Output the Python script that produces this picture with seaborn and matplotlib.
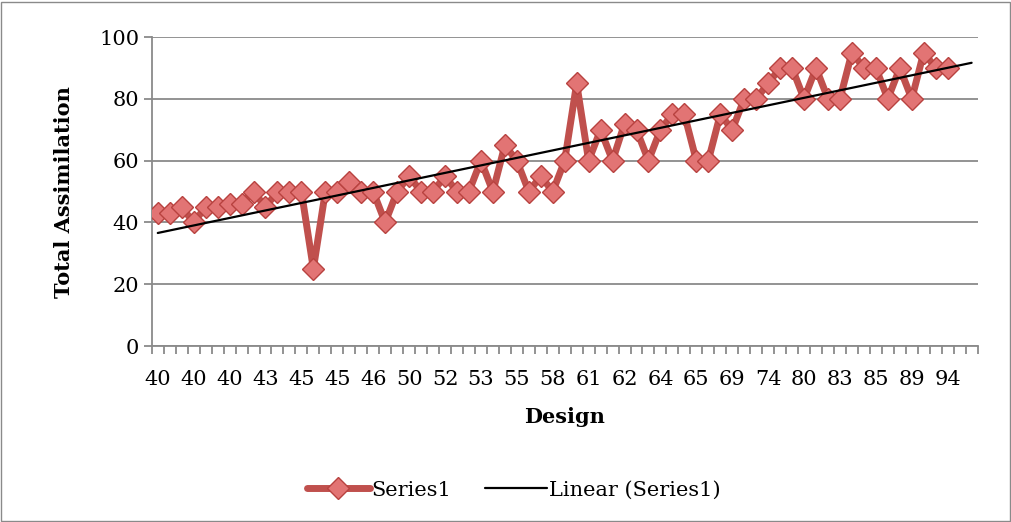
import matplotlib.pyplot as plt
import matplotlib.patches as mpatches
import numpy as np
import pandas as pd
import seaborn as sns

# category axis: 69 slots, every third one labelled
n_categories = 69
design_labels = ["40", "40", "40", "43", "45", "45", "46", "50", "52", "53", "55", "58",
                 "61", "62", "64", "65", "69", "74", "80", "83", "85", "89", "94"]
label_step = 3

# Series1 values
assimilation = [43, 43, 45, 40, 45, 45, 46, 46, 50, 45,
                 50, 50, 50, 25, 50, 50, 53, 50, 50, 40,
                 50, 55, 50, 50, 55, 50, 50, 60, 50, 65,
                 60, 50, 55, 50, 60, 85, 60, 70, 60, 72,
                 70, 60, 70, 75, 75, 60, 60, 75, 70, 80,
                 80, 85, 90, 90, 80, 90, 80, 80, 95, 90,
                 90, 80, 90, 80, 95, 90, 90]

sns.set_style("white")
plt.rcParams["font.family"] = ["DejaVu Serif"]
plt.rcParams["text.color"] = "black"
plt.rcParams["axes.labelcolor"] = "black"
plt.rcParams["xtick.labelcolor"] = "black"
plt.rcParams["ytick.labelcolor"] = "black"

df = pd.DataFrame({"pos": np.arange(len(assimilation)), "value": assimilation})

fig = plt.figure(figsize=(10.12, 5.22), dpi=100)
ax = fig.add_axes([0.150, 0.337, 0.816, 0.592])

grid_col = "#8a8a8a"
ax.yaxis.grid(True, color=grid_col, linewidth=1.3)
ax.set_axisbelow(True)

sns.lineplot(data=df, x="pos", y="value", ax=ax, color="#c0504d", linewidth=5,
             marker="D", markersize=11.5, markerfacecolor="#e27474",
             markeredgecolor="#b8423f", markeredgewidth=1.0, label="Series1",
             zorder=3)

# linear trend fitted to the series, drawn over the whole category range
slope, intercept = np.polyfit(df["pos"], df["value"], 1)
trend_x = np.arange(n_categories)
trend = pd.DataFrame({"pos": trend_x, "value": slope * trend_x + intercept})
sns.lineplot(data=trend, x="pos", y="value", ax=ax, color="black", linewidth=1.6,
             label="Linear (Series1)", zorder=4)

ax.set_xlim(-0.5, n_categories - 0.5)
ax.set_ylim(0, 100)
ax.set_yticks(np.arange(0, 101, 20))
ax.set_xticks(np.arange(0, len(design_labels) * label_step, label_step))
ax.set_xticklabels(design_labels)
ax.set_xticks(np.arange(-0.5, n_categories, 1), minor=True)
ax.tick_params(axis="x", which="major", length=0, pad=17, labelsize=15)
ax.tick_params(axis="x", which="minor", length=6, width=1.3, color=grid_col,
               direction="out", bottom=True)
ax.tick_params(axis="y", which="major", length=6, width=1.3, color=grid_col,
               direction="out", left=True, pad=3, labelsize=15)

for side in ["top", "right"]:
    ax.spines[side].set_visible(False)
for side in ["left", "bottom"]:
    ax.spines[side].set_color(grid_col)
    ax.spines[side].set_linewidth(1.3)

ax.set_xlabel("Design", fontsize=15, fontweight="bold", labelpad=13)
ax.set_ylabel("Total Assimilation", fontsize=15, fontweight="bold", labelpad=18)

handles, labels = ax.get_legend_handles_labels()
ax.get_legend().remove()
fig.legend(handles, labels, loc="center", bbox_to_anchor=(0.508, 0.061), ncol=2,
           frameon=False, fontsize=15, handlelength=3.0, columnspacing=1.6,
           handletextpad=0.1, numpoints=1)

fig.patches.append(mpatches.Rectangle((0.001, 0.002), 0.997, 0.995,
                                      transform=fig.transFigure, fill=False,
                                      edgecolor="#8a8a8a", linewidth=1))

fig.savefig("out.png", dpi=100)
plt.close(fig)
